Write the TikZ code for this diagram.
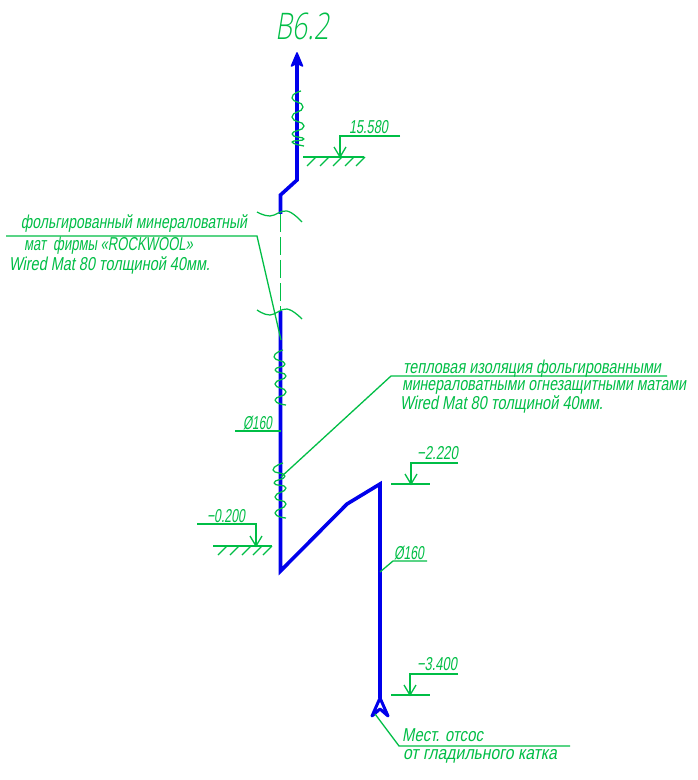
\documentclass[tikz,border=0pt]{standalone}
\usepackage{fontspec}
\usepackage{graphicx}
\newfontfamily\dwgfont{Liberation Sans}[FakeSlant=0.22]
\newfontfamily\titlefont{Open Sans}[UprightFont=* Light,FakeSlant=0.22]
\definecolor{dgreen}{RGB}{0,190,70}
\definecolor{dblue}{RGB}{0,0,235}
\newdimen\pxu \pxu=0.75pt
\newcommand{\lbl}[6][14]{\node[lblstyle,font={\fontsize{#1pt}{#1pt}\selectfont\dwgfont}] (#2) at (#3,#4) {\resizebox{#5\pxu}{\height}{#6}};}
\newcommand{\levelmark}[7]{%
 \coordinate (#1s) at (#2,#3); \coordinate (#1c) at (#4,#3); \coordinate (#1t) at (#4,#5);
 \coordinate (#1a) at (#6,#5); \coordinate (#1b) at (#7,#5);
 \draw[gline] (#1s) -- (#1c) -- (#1t);
 \draw[gline] ($(#1t)+(-6,-10)$) -- (#1t) -- ($(#1t)+(6,-10)$);
 \draw[gline] (#1a) -- (#1b);}
\usetikzlibrary{calc}
\tikzset{
 gline/.style={draw=dgreen,line width=1.3\pxu},
 thinline/.style={draw=dgreen,line width=1.25\pxu},
 wave/.style={draw=dgreen,line width=1.25\pxu,line join=round},
 pipe/.style={draw=dblue,line width=3.6\pxu,line join=miter},
 lblstyle/.style={anchor=base west,inner sep=0pt,outer sep=0pt,text=dgreen}
}
\begin{document}
\begin{tikzpicture}[x=0.75pt,y=-0.75pt]
\useasboundingbox[fill=white] (0,0) rectangle (697,780);
% pipe
\coordinate (tip) at (297,53);
\coordinate (p1) at (297,180);
\coordinate (p2) at (280.5,195);
\coordinate (p3) at (280.5,214);
\coordinate (p4) at (280.5,311);
\coordinate (p5) at (280.5,571);
\coordinate (p6) at (347,504);
\coordinate (p7) at (380,484);
\coordinate (p8) at (380,698);
\draw[pipe] (297,60) -- (p1) -- (p2) -- (p3);
\draw[pipe] (p4) -- (p5) -- (p6) -- (p7) -- (p8);
\draw[dblue,fill=dblue,line width=1.6\pxu,line join=round] (tip) -- (291.5,66) -- (297,63) -- (302.5,66) -- cycle;
\draw[dblue,line width=3\pxu,line join=round] (p8) -- (372,716) -- (380,709) -- (388,716) -- cycle;
% break
\draw[dgreen,line width=1.2\pxu,dash pattern=on 18\pxu off 5\pxu] (p3) -- (p4);
\draw[thinline] plot[smooth,tension=0.7] coordinates {(257,212) (270,216) (287,211) (302,222)};
\draw[thinline] plot[smooth,tension=0.7] coordinates {(257,310) (270,315) (287,309) (302,319)};
% insulation waves
\draw[wave] plot[smooth,tension=1.1] coordinates {(301,91) (292,98) (303,107) (292,117) (304,126) (292,134) (304,139) (292,142) (304,146)};
\draw[wave] plot[smooth,tension=1.1] coordinates {(283,350) (274,357) (285,364) (275,370) (286,376) (275,384) (286,392) (275,400) (286,405)};
\draw[wave] plot[smooth,tension=1.1] coordinates {(283,463) (273,470) (285,476) (274,483) (286,488) (275,497) (286,504) (275,513) (286,518)};
% level marks
\levelmark{la}{400}{136}{340}{157}{303}{364}
\foreach \x in {316,329,342,354,365} \draw[thinline] (\x,157) -- ++(-9,9);
\levelmark{lb}{197}{524}{256}{546}{213}{272}
\foreach \x in {227,239,251,262,272} \draw[thinline] (\x,546) -- ++(-9,9);
\levelmark{lc}{458}{463}{411}{484}{391}{430}
\levelmark{ld}{458}{674}{410}{695}{391}{430}
% diameter leaders
\coordinate (dl1) at (235,431);
\coordinate (dl2) at (380,572);
\coordinate (dl3) at (393,561);
\coordinate (dl4) at (427,561);
\draw[gline] (dl1) -- (280.5,431);
\draw[gline] (dl2) -- (dl3) -- (dl4);
% note leaders
\coordinate (na) at (6,236);
\coordinate (nb) at (257,236);
\coordinate (nc) at (281,340);
\draw[gline] (na) -- (nb) -- (nc);
\coordinate (ma) at (281,477);
\coordinate (mb) at (391,376);
\coordinate (mc) at (667,376);
\draw[gline] (ma) -- (mb) -- (mc);
\coordinate (oa) at (375,714);
\coordinate (ob) at (399,746);
\coordinate (oc) at (570,746);
\draw[gline] (oa) -- (ob) -- (oc);
% labels
\node[lblstyle,font={\fontsize{27.5pt}{28pt}\selectfont\titlefont}] (title) at (275,40) {\resizebox{54\pxu}{\height}{В6.2}};
\lbl{t1}{349}{134}{39}{15.580}
\lbl{t2}{207}{522}{38}{−0.200}
\lbl{t3}{243}{429}{29}{Ø160}
\lbl{t4}{417}{459}{41}{−2.220}
\lbl{t5}{394}{559}{30}{Ø160}
\lbl{t6}{417}{670}{40}{−3.400}
\lbl{n1}{21}{229}{226}{фольгированный минераловатный}
\lbl{n2}{24}{251}{169}{мат\ \ фирмы «ROCKWOOL»}
\lbl{n3}{9}{270}{201}{Wired Mat 80 толщиной 40мм.}
\lbl{m1}{403}{373}{258}{тепловая изоляция фольгированными}
\lbl{m2}{402}{390}{284}{минераловатными огнезащитными матами}
\lbl{m3}{400}{409}{203}{Wired Mat 80 толщиной 40мм.}
\lbl{o1}{402}{741}{81}{Мест. отсос}
\lbl{o2}{403}{759}{154}{от гладильного катка}
\end{tikzpicture}
\end{document}
